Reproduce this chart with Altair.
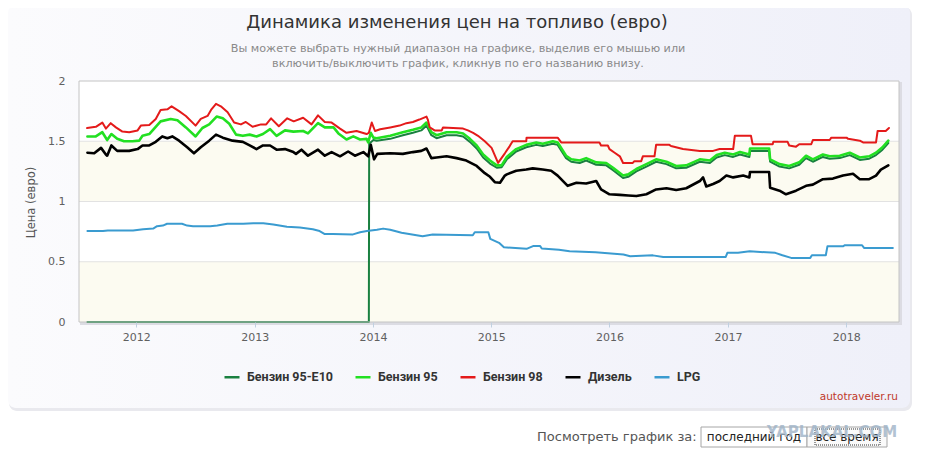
import altair as alt
import pandas as pd

# ---------------- data ----------------
fuel_names = ["Бензин 95-E10", "Бензин 95", "Бензин 98", "Дизель", "LPG"]
fuel_colors = ["#1a8040", "#22e022", "#e41a1a", "#000000", "#3a9bd0"]
fuel_widths = [2, 2.6, 2, 2.6, 2]

benzin_e10 = [
    ("2011-08-03", 0), ("2013-12-19", 0), ("2013-12-20", 1.48), ("2014-01-02", 1.51),
    ("2014-01-12", 1.505), ("2014-02-23", 1.52), ("2014-04-03", 1.55), ("2014-05-04", 1.57),
    ("2014-05-30", 1.59), ("2014-06-15", 1.63), ("2014-06-30", 1.55), ("2014-07-16", 1.525),
    ("2014-08-16", 1.55), ("2014-09-16", 1.55), ("2014-10-06", 1.54), ("2014-10-27", 1.495),
    ("2014-11-17", 1.44), ("2014-12-07", 1.365), ("2014-12-28", 1.315), ("2015-01-18", 1.28),
    ("2015-02-02", 1.285), ("2015-02-18", 1.35), ("2015-03-19", 1.415), ("2015-04-19", 1.45),
    ("2015-05-20", 1.47), ("2015-06-09", 1.46), ("2015-07-10", 1.48), ("2015-07-25", 1.47),
    ("2015-08-20", 1.36), ("2015-09-05", 1.33), ("2015-10-01", 1.32), ("2015-10-21", 1.34),
    ("2015-11-21", 1.305), ("2015-12-22", 1.30), ("2016-01-12", 1.26), ("2016-02-12", 1.195),
    ("2016-02-28", 1.205), ("2016-03-24", 1.25), ("2016-04-24", 1.29), ("2016-05-24", 1.33),
    ("2016-06-25", 1.31), ("2016-07-25", 1.275), ("2016-08-25", 1.28), ("2016-10-06", 1.33),
    ("2016-11-06", 1.32), ("2016-11-27", 1.365), ("2016-12-22", 1.385), ("2017-01-17", 1.37),
    ("2017-02-07", 1.39), ("2017-03-08", 1.37), ("2017-03-10", 1.42), ("2017-05-08", 1.42),
    ("2017-05-11", 1.33), ("2017-06-09", 1.29), ("2017-07-09", 1.275), ("2017-08-09", 1.305),
    ("2017-08-30", 1.36), ("2017-09-20", 1.33), ("2017-10-21", 1.37), ("2017-11-11", 1.355),
    ("2017-12-12", 1.36), ("2018-01-12", 1.385), ("2018-02-12", 1.345), ("2018-03-13", 1.355),
    ("2018-04-03", 1.385), ("2018-04-23", 1.43), ("2018-05-11", 1.485),
]

benzin_95 = [
    ("2011-08-03", 1.54), ("2011-08-29", 1.54), ("2011-09-18", 1.575), ("2011-10-03", 1.51),
    ("2011-10-16", 1.56), ("2011-11-03", 1.52), ("2011-11-24", 1.50), ("2011-12-20", 1.50),
    ("2012-01-10", 1.505), ("2012-01-20", 1.545), ("2012-02-10", 1.56), ("2012-03-16", 1.665),
    ("2012-04-16", 1.685), ("2012-05-07", 1.675), ("2012-06-02", 1.615), ("2012-07-02", 1.54),
    ("2012-07-23", 1.61), ("2012-08-13", 1.64), ("2012-09-05", 1.705), ("2012-09-24", 1.69),
    ("2012-10-14", 1.645), ("2012-11-04", 1.555), ("2012-11-25", 1.545), ("2012-12-16", 1.555),
    ("2013-01-06", 1.54), ("2013-01-26", 1.56), ("2013-02-17", 1.60), ("2013-03-09", 1.545),
    ("2013-04-04", 1.59), ("2013-04-30", 1.58), ("2013-05-30", 1.585), ("2013-06-14", 1.565),
    ("2013-07-15", 1.65), ("2013-08-05", 1.615), ("2013-09-01", 1.615), ("2013-09-16", 1.565),
    ("2013-10-11", 1.515), ("2013-11-01", 1.54), ("2013-11-22", 1.515), ("2013-12-12", 1.52),
    ("2013-12-17", 1.49), ("2013-12-25", 1.57), ("2014-01-02", 1.53), ("2014-01-12", 1.525),
    ("2014-02-23", 1.545), ("2014-04-03", 1.575), ("2014-05-04", 1.595), ("2014-05-30", 1.615),
    ("2014-06-15", 1.655), ("2014-06-30", 1.575), ("2014-07-16", 1.55), ("2014-08-16", 1.575),
    ("2014-09-16", 1.575), ("2014-10-06", 1.565), ("2014-10-27", 1.52), ("2014-11-17", 1.465),
    ("2014-12-07", 1.39), ("2014-12-28", 1.34), ("2015-01-18", 1.30), ("2015-02-02", 1.30),
    ("2015-02-18", 1.37), ("2015-03-19", 1.435), ("2015-04-19", 1.47), ("2015-05-20", 1.49),
    ("2015-06-09", 1.48), ("2015-07-10", 1.50), ("2015-07-25", 1.49), ("2015-08-20", 1.38),
    ("2015-09-05", 1.35), ("2015-10-01", 1.34), ("2015-10-21", 1.36), ("2015-11-21", 1.325),
    ("2015-12-22", 1.32), ("2016-01-12", 1.28), ("2016-02-12", 1.215), ("2016-02-28", 1.225),
    ("2016-03-24", 1.27), ("2016-04-24", 1.31), ("2016-05-24", 1.35), ("2016-06-25", 1.33),
    ("2016-07-25", 1.295), ("2016-08-25", 1.30), ("2016-10-06", 1.35), ("2016-11-06", 1.34),
    ("2016-11-27", 1.385), ("2016-12-22", 1.405), ("2017-01-17", 1.39), ("2017-02-07", 1.41),
    ("2017-03-08", 1.39), ("2017-03-10", 1.44), ("2017-05-08", 1.44), ("2017-05-11", 1.35),
    ("2017-06-09", 1.31), ("2017-07-09", 1.295), ("2017-08-09", 1.325), ("2017-08-30", 1.38),
    ("2017-09-20", 1.35), ("2017-10-21", 1.39), ("2017-11-11", 1.375), ("2017-12-12", 1.38),
    ("2018-01-12", 1.405), ("2018-02-12", 1.365), ("2018-03-13", 1.375), ("2018-04-03", 1.405),
    ("2018-04-23", 1.45), ("2018-05-11", 1.505),
]

benzin_98 = [
    ("2011-08-02", 1.61), ("2011-08-29", 1.62), ("2011-09-18", 1.655), ("2011-09-29", 1.605),
    ("2011-10-14", 1.65), ("2011-10-30", 1.615), ("2011-11-19", 1.58), ("2011-12-10", 1.575),
    ("2012-01-05", 1.59), ("2012-01-15", 1.63), ("2012-02-10", 1.635), ("2012-03-01", 1.685),
    ("2012-03-16", 1.76), ("2012-04-06", 1.765), ("2012-04-19", 1.79), ("2012-05-12", 1.75),
    ("2012-06-02", 1.71), ("2012-07-02", 1.63), ("2012-07-18", 1.685), ("2012-08-08", 1.71),
    ("2012-08-20", 1.765), ("2012-09-03", 1.81), ("2012-09-18", 1.79), ("2012-10-09", 1.74),
    ("2012-10-29", 1.655), ("2012-11-19", 1.64), ("2012-12-04", 1.66), ("2012-12-25", 1.62),
    ("2013-01-20", 1.64), ("2013-02-05", 1.64), ("2013-02-20", 1.69), ("2013-03-16", 1.625),
    ("2013-04-11", 1.69), ("2013-05-01", 1.665), ("2013-05-30", 1.695), ("2013-06-25", 1.64),
    ("2013-07-15", 1.715), ("2013-08-05", 1.66), ("2013-08-26", 1.655), ("2013-09-21", 1.605),
    ("2013-10-11", 1.57), ("2013-11-11", 1.585), ("2013-12-12", 1.56), ("2013-12-19", 1.57),
    ("2013-12-28", 1.655), ("2014-01-07", 1.585), ("2014-01-23", 1.60), ("2014-02-23", 1.615),
    ("2014-03-24", 1.63), ("2014-04-14", 1.65), ("2014-05-04", 1.66), ("2014-05-24", 1.68),
    ("2014-06-15", 1.705), ("2014-06-19", 1.68), ("2014-06-25", 1.615), ("2014-07-10", 1.59),
    ("2014-08-01", 1.59), ("2014-08-05", 1.615), ("2014-10-06", 1.605), ("2014-10-21", 1.59),
    ("2014-11-06", 1.57), ("2014-11-21", 1.545), ("2014-12-12", 1.50), ("2015-01-02", 1.445),
    ("2015-01-22", 1.32), ("2015-02-12", 1.40), ("2015-02-27", 1.46), ("2015-03-08", 1.50),
    ("2015-04-19", 1.50), ("2015-04-20", 1.53), ("2015-07-25", 1.53), ("2015-08-05", 1.49),
    ("2015-12-01", 1.49), ("2015-12-06", 1.465), ("2015-12-27", 1.465), ("2016-01-01", 1.435),
    ("2016-01-17", 1.405), ("2016-02-02", 1.375), ("2016-02-12", 1.32), ("2016-03-13", 1.32),
    ("2016-03-18", 1.335), ("2016-04-08", 1.335), ("2016-04-13", 1.375), ("2016-05-19", 1.375),
    ("2016-05-24", 1.47), ("2016-07-04", 1.47), ("2016-07-09", 1.46), ("2016-08-15", 1.435),
    ("2016-10-06", 1.42), ("2016-11-16", 1.42), ("2016-12-06", 1.435), ("2017-01-17", 1.435),
    ("2017-01-22", 1.545), ("2017-03-13", 1.545), ("2017-03-18", 1.475), ("2017-05-19", 1.475),
    ("2017-05-21", 1.495), ("2017-07-04", 1.495), ("2017-07-09", 1.465), ("2017-07-30", 1.455),
    ("2017-08-09", 1.475), ("2017-09-15", 1.475), ("2017-09-20", 1.51), ("2017-11-11", 1.51),
    ("2017-11-16", 1.53), ("2018-01-02", 1.53), ("2018-01-07", 1.52), ("2018-02-12", 1.505),
    ("2018-02-22", 1.49), ("2018-04-03", 1.49), ("2018-04-08", 1.585), ("2018-05-03", 1.585),
    ("2018-05-13", 1.61),
]

diesel = [
    ("2011-08-03", 1.405), ("2011-08-24", 1.40), ("2011-09-14", 1.445), ("2011-09-29", 1.39),
    ("2011-10-03", 1.38), ("2011-10-16", 1.465), ("2011-11-03", 1.42), ("2011-12-10", 1.42),
    ("2012-01-05", 1.435), ("2012-01-20", 1.465), ("2012-02-10", 1.465), ("2012-03-01", 1.495),
    ("2012-03-21", 1.54), ("2012-04-06", 1.525), ("2012-04-21", 1.54), ("2012-05-12", 1.505),
    ("2012-06-06", 1.45), ("2012-06-27", 1.40), ("2012-07-18", 1.45), ("2012-08-13", 1.505),
    ("2012-09-03", 1.555), ("2012-09-24", 1.53), ("2012-10-24", 1.505), ("2012-11-25", 1.495),
    ("2012-12-16", 1.465), ("2013-01-06", 1.435), ("2013-01-26", 1.465), ("2013-02-17", 1.465),
    ("2013-03-09", 1.43), ("2013-04-04", 1.435), ("2013-04-30", 1.41), ("2013-05-08", 1.395),
    ("2013-05-25", 1.43), ("2013-06-14", 1.38), ("2013-07-15", 1.43), ("2013-08-05", 1.38),
    ("2013-08-26", 1.41), ("2013-09-21", 1.375), ("2013-10-16", 1.415), ("2013-11-06", 1.38),
    ("2013-12-02", 1.41), ("2013-12-17", 1.375), ("2013-12-25", 1.47), ("2014-01-04", 1.35),
    ("2014-01-14", 1.395), ("2014-02-23", 1.40), ("2014-04-03", 1.395), ("2014-05-04", 1.41),
    ("2014-05-30", 1.42), ("2014-06-15", 1.44), ("2014-06-30", 1.36), ("2014-07-16", 1.365),
    ("2014-08-16", 1.375), ("2014-09-16", 1.36), ("2014-10-16", 1.34), ("2014-11-17", 1.295),
    ("2014-12-12", 1.235), ("2014-12-28", 1.205), ("2015-01-12", 1.16), ("2015-01-28", 1.155),
    ("2015-02-12", 1.215), ("2015-02-18", 1.225), ("2015-03-19", 1.255), ("2015-04-19", 1.265),
    ("2015-05-09", 1.275), ("2015-06-09", 1.265), ("2015-07-05", 1.255), ("2015-07-25", 1.215),
    ("2015-08-25", 1.13), ("2015-09-21", 1.155), ("2015-10-21", 1.15), ("2015-11-21", 1.17),
    ("2015-12-06", 1.10), ("2016-01-01", 1.06), ("2016-02-02", 1.055), ("2016-02-28", 1.05),
    ("2016-03-24", 1.045), ("2016-04-24", 1.06), ("2016-05-24", 1.10), ("2016-06-25", 1.11),
    ("2016-07-25", 1.095), ("2016-08-25", 1.11), ("2016-10-06", 1.17), ("2016-10-16", 1.20),
    ("2016-10-26", 1.125), ("2016-11-16", 1.145), ("2016-12-06", 1.17), ("2016-12-27", 1.215),
    ("2017-01-17", 1.20), ("2017-02-17", 1.215), ("2017-03-08", 1.20), ("2017-03-10", 1.245),
    ("2017-05-08", 1.245), ("2017-05-11", 1.115), ("2017-06-09", 1.09), ("2017-06-29", 1.06),
    ("2017-07-30", 1.09), ("2017-08-30", 1.13), ("2017-09-20", 1.14), ("2017-10-21", 1.185),
    ("2017-11-21", 1.19), ("2017-12-22", 1.215), ("2018-01-22", 1.23), ("2018-02-12", 1.185),
    ("2018-03-13", 1.185), ("2018-04-03", 1.215), ("2018-04-18", 1.265), ("2018-05-11", 1.30),
]

lpg = [
    ("2011-08-03", 0.755), ("2011-09-20", 0.755), ("2011-10-05", 0.76), ("2011-12-22", 0.76),
    ("2012-01-22", 0.77), ("2012-02-22", 0.775), ("2012-03-05", 0.795), ("2012-03-23", 0.80),
    ("2012-04-05", 0.815), ("2012-05-21", 0.815), ("2012-06-06", 0.80), ("2012-06-24", 0.795),
    ("2012-08-16", 0.795), ("2012-09-07", 0.80), ("2012-10-08", 0.815), ("2012-11-26", 0.815),
    ("2012-12-27", 0.82), ("2013-01-27", 0.82), ("2013-02-27", 0.81), ("2013-04-10", 0.79),
    ("2013-05-20", 0.785), ("2013-06-29", 0.77), ("2013-07-20", 0.755), ("2013-08-05", 0.73),
    ("2013-08-30", 0.73), ("2013-10-31", 0.727), ("2013-11-22", 0.745), ("2013-12-13", 0.755),
    ("2014-01-13", 0.765), ("2014-02-01", 0.775), ("2014-02-23", 0.765), ("2014-03-30", 0.74),
    ("2014-06-03", 0.712), ("2014-07-04", 0.726), ("2014-11-05", 0.72), ("2014-11-11", 0.745),
    ("2014-12-23", 0.745), ("2014-12-29", 0.69), ("2015-01-25", 0.657), ("2015-02-09", 0.62),
    ("2015-04-20", 0.607), ("2015-05-10", 0.63), ("2015-06-01", 0.63), ("2015-06-06", 0.61),
    ("2015-07-29", 0.60), ("2015-08-31", 0.587), ("2015-11-19", 0.579), ("2016-02-13", 0.56),
    ("2016-03-05", 0.545), ("2016-05-14", 0.553), ("2016-06-15", 0.54), ("2016-12-25", 0.54),
    ("2016-12-30", 0.574), ("2017-02-01", 0.574), ("2017-03-09", 0.587), ("2017-05-27", 0.574),
    ("2017-06-18", 0.554), ("2017-07-15", 0.532), ("2017-09-12", 0.532), ("2017-09-17", 0.554),
    ("2017-10-30", 0.554), ("2017-11-04", 0.628), ("2017-12-22", 0.628), ("2017-12-28", 0.637),
    ("2018-02-19", 0.637), ("2018-02-25", 0.615), ("2018-05-25", 0.615),
]

band_lo = [0, 1.0]
band_hi = [0.5, 1.5]
grid_vals = [0.5, 1.0, 1.5]
y_ticks = [0, 0.5, 1, 1.5, 2]
x_years = [2012, 2013, 2014, 2015, 2016, 2017, 2018]
x_domain = ["2011-07-08", "2018-06-13"]

# ---------------- tables ----------------
rows = []
for name, series, w in zip(fuel_names, [benzin_e10, benzin_95, benzin_98, diesel, lpg], fuel_widths):
    for d, v in series:
        rows.append({"date": d, "price": v, "fuel": name, "w": w})
df = pd.DataFrame(rows)
bands_df = pd.DataFrame({"lo": band_lo, "hi": band_hi})
grid_df = pd.DataFrame({"g": grid_vals})
one = pd.DataFrame({"k": [0]})

W, H = 820, 241
FONT = "DejaVu Sans"

yscale = alt.Scale(domain=[0, 2], nice=False, zero=False)
yaxis = alt.Axis(
    values=y_ticks, format="~g", grid=False, domain=False, ticks=False, tickSize=0,
    labelPadding=14, labelFont=FONT, labelFontSize=11, labelColor="#606060",
    title="Цена (евро)", titleFont=FONT, titleFontSize=11.5, titleFontWeight="normal",
    titleColor="#555555", titleX=-48, titleY=121, titleAngle=270, titleAlign="center",
    titleBaseline="middle", zindex=1,
)
xscale = alt.Scale(type="utc", domain=x_domain)
xaxis = alt.Axis(
    values=[alt.DateTime(year=y, month=1, date=1, utc=True) for y in x_years],
    format="%Y", grid=False, domain=False, tickColor="#c0d0e0", tickSize=5,
    labelPadding=4, labelFont=FONT, labelFontSize=11, labelColor="#606060",
    title=None, zindex=1,
)


def box(x, x2, y, y2, **kw):
    return alt.Chart(one).mark_rect(**kw).encode(
        x=alt.value(x), x2=alt.value(x2), y=alt.value(y), y2=alt.value(y2)
    )


def txt(s, x, y, **kw):
    params = dict(font=FONT, align="center", baseline="middle")
    params.update(kw)
    return alt.Chart(one).mark_text(text=s, **params).encode(x=alt.value(x), y=alt.value(y))


card_fill = alt.LinearGradient(
    gradient="linear",
    stops=[alt.GradientStop(color="#fbfbfd", offset=0), alt.GradientStop(color="#eff0f9", offset=1)],
    x1=0, x2=1, y1=0, y2=0,
)

card_shadow = box(-70, 833, -74, 330, fill="#e9e9ee", cornerRadius=8)
card = box(-71, 831, -76, 327, fill=card_fill, cornerRadius=8)
plot_shadow = box(1, W + 3, 1, H + 3, fill="#dcdce3")
plot_bg = box(0, W, 0, H, fill="#ffffff")

bands = alt.Chart(bands_df).mark_rect(fill="#fcfbf1").encode(
    x=alt.value(0), x2=alt.value(W),
    y=alt.Y("lo:Q", scale=yscale, axis=yaxis), y2="hi:Q",
)
grid = alt.Chart(grid_df).mark_rule(color="#e2e2e2", strokeWidth=1).encode(
    x=alt.value(0), x2=alt.value(W),
    y=alt.Y("g:Q", scale=yscale, axis=yaxis),
)

lines = alt.Chart(df).mark_line(strokeJoin="round", strokeCap="round").encode(
    x=alt.X("date:T", scale=xscale, axis=xaxis),
    y=alt.Y("price:Q", scale=yscale, axis=yaxis),
    color=alt.Color(
        "fuel:N",
        scale=alt.Scale(domain=fuel_names, range=fuel_colors),
        legend=alt.Legend(
            orient="none", legendX=144, legendY=287, direction="horizontal", title=None,
            symbolType="stroke", symbolSize=225, symbolStrokeWidth=2.5,
            labelFont="Roboto", labelFontSize=12.5, labelFontWeight="bold",
            labelColor="#333333", labelOffset=6, columnPadding=17,
        ),
    ),
    strokeWidth=alt.StrokeWidth("w:Q", scale=None, legend=None),
)

plot_border = box(0, W, 0, H, fillOpacity=0, stroke="#c4c4c4", strokeWidth=1)

title = txt("Динамика изменения цен на топливо (евро)", 378, -58, fontSize=18, color="#333333")
sub1 = txt("Вы можете выбрать нужный диапазон на графике, выделив его мышью или",
           379, -32, fontSize=11.2, color="#8a8a8a")
sub2 = txt("включить/выключить график, кликнув по его названию внизу.",
           379, -17, fontSize=11.2, color="#8a8a8a")
credit = txt("autotraveler.ru", 819, 316, align="right", fontSize=10.5, color="#c0392b")
view_lbl = txt("Посмотреть график за:", 458, 356, align="left", fontSize=13, color="#555555")
btn1 = box(622, 728, 346, 366, fill="#ffffff", stroke="#a6a6a6", strokeWidth=1)
btn2 = box(728, 808, 346, 366, fill="#fafafa", stroke="#a6a6a6", strokeWidth=1)
btn2_focus = box(736, 801, 348, 364, fillOpacity=0, stroke="#333333", strokeWidth=1, strokeDash=[1, 1])
btn1_t = txt("последний год", 675, 356, fontSize=12, color="#222222")
btn2_t = txt("все время", 768, 356, fontSize=12, color="#222222")
watermark = txt("YAPLAKAL.COM", 753, 351, fontSize=15, fontWeight="bold", color="#9fb4c8", opacity=0.8)

chart = alt.layer(
    card_shadow, card, plot_shadow, plot_bg, bands, grid, lines, plot_border,
    title, sub1, sub2, credit, view_lbl, btn1, btn2, btn2_focus, btn1_t, btn2_t, watermark,
).properties(
    width=W, height=H,
    padding={"left": 71, "top": 73, "right": 14, "bottom": 126},
    autosize=alt.AutoSizeParams(type="none"),
).configure_view(strokeWidth=0).configure(background="#ffffff")

chart.save("out.html", embed_options={"renderer": "svg", "actions": False})
